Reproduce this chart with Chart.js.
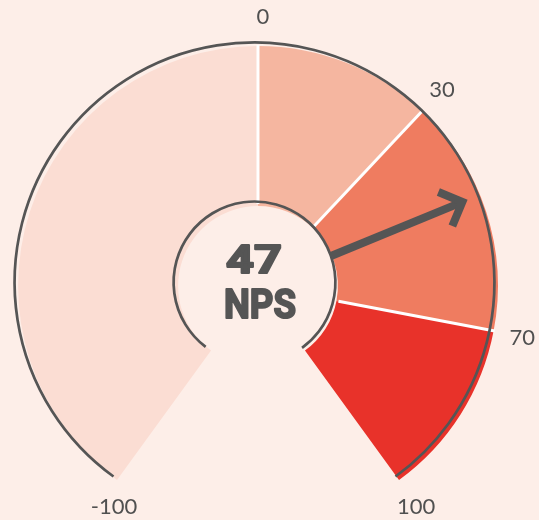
<!DOCTYPE html>
<html>
<head>
<meta charset="utf-8">
<script src="https://cdn.jsdelivr.net/npm/chart.js@4.4.1/dist/chart.umd.min.js"></script>
<style>
  html, body { margin: 0; padding: 0; background: #FDEEE8; }
  canvas { display: block; }
</style>
</head>
<body>
<canvas id="c" width="539" height="520"></canvas>
<script>
// ---- data ----
const tickValues = [-100, 0, 30, 70, 100];
const tickLabels = ['-100', '0', '30', '70', '100'];
const bandNames = ['Detractor', 'Passive', 'Good', 'Excellent'];
const npsValue = 47;
const centerLabel = 'NPS';

// ---- style ----
const bandColors = ['#FBDDD3', '#F5B6A0', '#EF7C60', '#E8322A'];
const bgColor = '#FDEEE8';
const inkColor = '#555555';
const labelNudge = [[14, 3], [5, 0], [0, 0], [0, 2], [0, 3]];

const bandSizes = [];
for (let i = 1; i < tickValues.length; i++) bandSizes.push(tickValues[i] - tickValues[i - 1]);

const gaugePlugin = {
  id: 'gauge',
  beforeDraw(chart) {
    const ctx = chart.ctx;
    ctx.save();
    ctx.fillStyle = bgColor;
    ctx.fillRect(0, 0, chart.width, chart.height);
    ctx.restore();
  },
  afterDatasetsDraw(chart) {
    const ctx = chart.ctx;
    const arcs = chart.getDatasetMeta(0).data;
    const cx = arcs[0].x, cy = arcs[0].y;
    const rO = arcs[0].outerRadius, rI = arcs[0].innerRadius;
    const a0 = arcs[0].startAngle, a1 = arcs[arcs.length - 1].endAngle;
    const vmin = tickValues[0], vmax = tickValues[tickValues.length - 1];
    const angleOf = v => a0 + (v - vmin) / (vmax - vmin) * (a1 - a0);

    ctx.save();
    // white separators
    ctx.strokeStyle = '#FFFFFF';
    ctx.lineWidth = 3;
    for (let i = 1; i < arcs.length; i++) {
      const a = arcs[i].startAngle;
      ctx.beginPath();
      ctx.moveTo(cx + Math.cos(a) * (rI + 2), cy + Math.sin(a) * (rI + 2));
      ctx.lineTo(cx + Math.cos(a) * (rO + 1), cy + Math.sin(a) * (rO + 1));
      ctx.stroke();
    }
    // outlines (slightly shifted)
    const ox = cx - 3.5, oy = cy - 3.5;
    ctx.strokeStyle = inkColor;
    ctx.lineWidth = 2.7;
    ctx.beginPath();
    ctx.arc(ox, oy, rO, a0, a1);
    ctx.stroke();
    ctx.beginPath();
    ctx.arc(ox, oy, rI + 1, a0 + 0.02, a1);
    ctx.stroke();

    // needle
    const an = angleOf(npsValue);
    const ux = Math.cos(an), uy = Math.sin(an);
    const tipR = rO - 19;
    const tx = cx + ux * tipR, ty = cy + uy * tipR;
    ctx.lineWidth = 8;
    ctx.lineCap = 'butt';
    ctx.beginPath();
    ctx.moveTo(cx + ux * (rI - 1), cy + uy * (rI - 1));
    ctx.lineTo(tx - ux * 3, ty - uy * 3);
    ctx.stroke();
    const armLen = 26, spread = Math.PI / 4;
    ctx.lineJoin = 'miter';
    ctx.beginPath();
    ctx.moveTo(tx - Math.cos(an - spread) * armLen, ty - Math.sin(an - spread) * armLen);
    ctx.lineTo(tx, ty);
    ctx.lineTo(tx - Math.cos(an + spread) * armLen, ty - Math.sin(an + spread) * armLen);
    ctx.stroke();

    // center text
    ctx.fillStyle = inkColor;
    ctx.strokeStyle = inkColor;
    ctx.lineJoin = 'round';
    ctx.textAlign = 'center';
    ctx.textBaseline = 'alphabetic';
    const drawFit = (txt, size, targetW, x, y) => {
      ctx.font = 'bold ' + size + 'px Roboto';
      const w = ctx.measureText(txt).width;
      ctx.save();
      ctx.translate(x, y);
      ctx.scale(targetW / w, 1);
      ctx.lineWidth = 2;
      ctx.fillText(txt, 0, 0);
      ctx.strokeText(txt, 0, -0.5);
      ctx.restore();
    };
    drawFit(String(npsValue), 38, 56, cx - 4, 273);
    drawFit(centerLabel, 40, 72, cx + 2, 318);

    // tick labels
    ctx.font = '22px Lato';
    ctx.textBaseline = 'middle';
    ctx.fillStyle = '#505050';
    const rL = rO + 29;
    tickValues.forEach((v, i) => {
      const a = angleOf(v);
      const x = cx + Math.cos(a) * rL + labelNudge[i][0];
      const y = cy + Math.sin(a) * rL + labelNudge[i][1];
      ctx.fillText(tickLabels[i], x, y);
    });
    ctx.restore();
  }
};

new Chart(document.getElementById('c'), {
  type: 'doughnut',
  data: {
    labels: bandNames,
    datasets: [{
      data: bandSizes,
      backgroundColor: bandColors,
      borderWidth: 0
    }]
  },
  options: {
    responsive: false,
    animation: false,
    circumference: 288,
    rotation: -144,
    cutout: '33.3%',
    layout: { padding: { left: 18, right: 41, top: 46, bottom: 40 } },
    plugins: { legend: { display: false }, tooltip: { enabled: false } }
  },
  plugins: [gaugePlugin]
});
</script>
</body>
</html>
